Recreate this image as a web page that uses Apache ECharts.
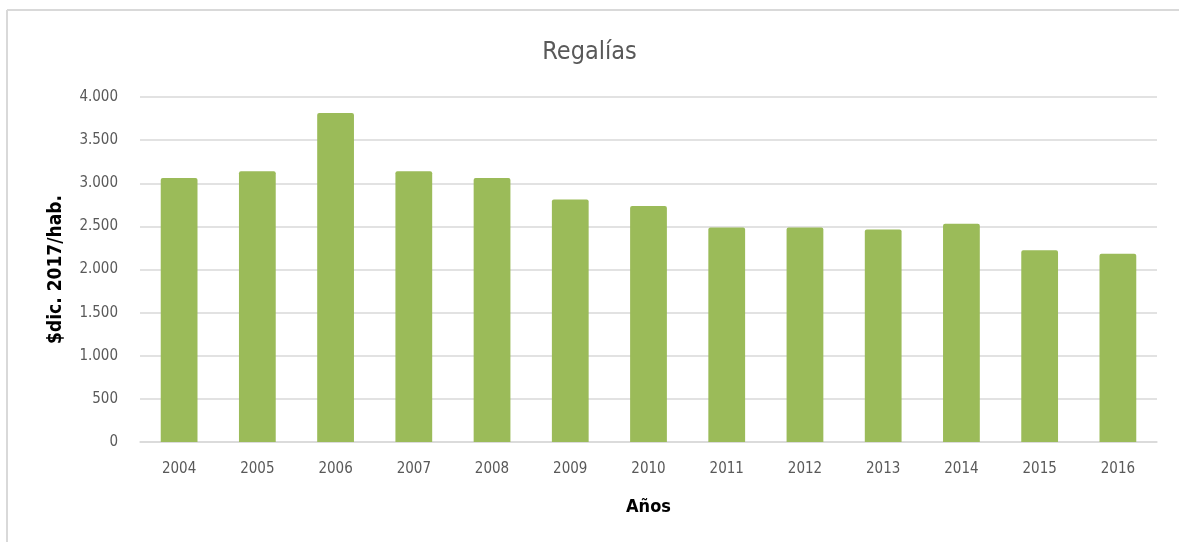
<!DOCTYPE html>
<html>
<head>
<meta charset="utf-8">
<title>Regalías</title>
<script src="https://cdn.jsdelivr.net/npm/echarts@6/dist/echarts.min.js"></script>
<style>
  html, body { margin: 0; padding: 0; background: #fff; }
  #chart { width: 1179px; height: 542px; }
</style>
</head>
<body>
<div id="chart"></div>
<script>
  // datos
  const years = ['2004', '2005', '2006', '2007', '2008', '2009', '2010', '2011', '2012', '2013', '2014', '2015', '2016']
  const regalias = [3060, 3140, 3815, 3140, 3060, 2812, 2735, 2488, 2488, 2465, 2530, 2222, 2184]

  const font = '"Liberation Sans Narrow", "DejaVu Sans Condensed", "Open Sans", sans-serif'
  const gris = '#595959'

  const chart = echarts.init(document.getElementById('chart'))
  chart.setOption({
    animation: false,
    title: {
      text: 'Regalías',
      left: 'center',
      top: 35,
      textStyle: { fontFamily: font, fontSize: 25, fontWeight: 'normal', color: gris }
    },
    grid: { left: 140, right: 22, top: 97, bottom: 100 },
    xAxis: {
      type: 'category',
      data: years,
      name: 'Años',
      nameLocation: 'middle',
      nameGap: 56,
      nameTextStyle: { fontFamily: font, fontSize: 18, fontWeight: 'bold', color: '#000' },
      axisLine: { lineStyle: { color: '#d9d9d9', width: 1.5 } },
      axisTick: { show: false },
      axisLabel: { fontFamily: font, fontSize: 15, color: gris, margin: 20 }
    },
    yAxis: {
      type: 'value',
      min: 0,
      max: 4000,
      interval: 500,
      name: '$dic. 2017/hab.',
      nameLocation: 'middle',
      nameGap: 74,
      nameTextStyle: { fontFamily: font, fontSize: 19, fontWeight: 'bold', color: '#000' },
      axisLabel: {
        fontFamily: font, fontSize: 15, color: gris, margin: 22,
        formatter: v => v.toString().replace(/\B(?=(\d{3})+(?!\d))/g, '.')
      },
      splitLine: { lineStyle: { color: '#d9d9d9', width: 1.5 } }
    },
    series: [{
      type: 'bar',
      data: regalias,
      barWidth: '47%',
      itemStyle: { color: '#9bbb59', borderRadius: [2, 2, 0, 0] }
    }],
    graphic: [
      { type: 'line', shape: { x1: 7, y1: 10, x2: 1179, y2: 10 }, style: { stroke: '#d9d9d9', lineWidth: 2 } },
      { type: 'line', shape: { x1: 7, y1: 10, x2: 7, y2: 542 }, style: { stroke: '#d9d9d9', lineWidth: 2 } }
    ]
  })
</script>
</body>
</html>
